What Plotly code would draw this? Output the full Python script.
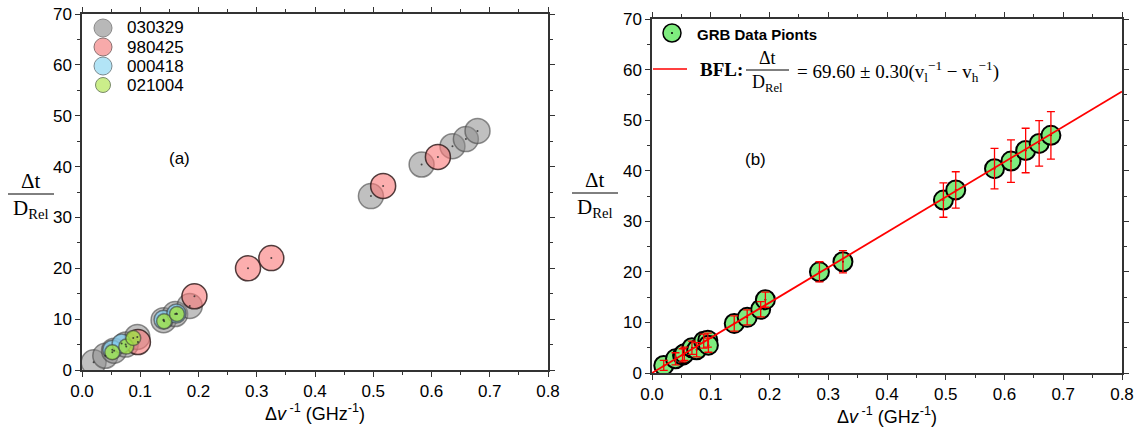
import plotly.graph_objects as go

# ---------------- data ----------------
# panel (a)
g030329_x = [0.020, 0.040, 0.055, 0.075, 0.095, 0.140, 0.160, 0.185, 0.496, 0.583, 0.636, 0.659, 0.679]
g030329_y = [1.5, 2.8, 3.8, 5.0, 6.5, 9.8, 11.0, 12.6, 34.2, 40.4, 44.0, 45.4, 47.0]
g980425_x = [0.096, 0.193, 0.285, 0.325, 0.517, 0.611]
g980425_y = [5.5, 14.5, 20.0, 22.0, 36.2, 41.9]
g000418_x = [0.052, 0.068, 0.140, 0.162]
g000418_y = [4.0, 5.2, 9.9, 11.1]
g021004_x = [0.052, 0.076, 0.088, 0.141, 0.163]
g021004_y = [3.5, 4.6, 6.3, 9.6, 11.0]

# panel (b)
grb_x = [0.020, 0.040, 0.052, 0.055, 0.068, 0.076, 0.088, 0.095, 0.096, 0.140, 0.162,
         0.185, 0.193, 0.285, 0.325, 0.496, 0.517, 0.583, 0.611, 0.636, 0.659, 0.679]
grb_y = [1.5, 2.8, 3.5, 3.8, 5.0, 4.6, 6.3, 6.5, 5.5, 9.8, 11.0,
         12.6, 14.5, 20.0, 22.0, 34.2, 36.2, 40.4, 41.9, 44.0, 45.4, 47.0]
grb_err = [1.0, 1.2, 1.3, 1.3, 1.3, 1.4, 1.4, 1.4, 1.4, 1.5, 1.5,
           1.5, 1.5, 2.0, 2.2, 3.4, 3.6, 4.0, 4.2, 4.4, 4.5, 4.7]
bfl_slope = 69.60
bfl_x = [0.0, 0.8]

x_ticks = [0.0, 0.1, 0.2, 0.3, 0.4, 0.5, 0.6, 0.7, 0.8]
y_ticks = [0, 10, 20, 30, 40, 50, 60, 70]

W, H = 1142, 434
SANS = "Liberation Sans, Arial, sans-serif"
SERIF = "Liberation Serif, Times New Roman, serif"


def px(x):
    return x / W


def py(y):
    return 1 - y / H


fig = go.Figure()

groups = [
    ("030329", g030329_x, g030329_y, "rgba(140,140,140,0.55)", "rgba(70,70,70,0.6)", 25,
     "#B8B8B8", "#8A8A8A", 18),
    ("980425", g980425_x, g980425_y, "rgba(250,120,120,0.6)", "rgba(50,30,30,0.85)", 25,
     "#F7AAAA", "#8A7070", 18),
    ("000418", g000418_x, g000418_y, "rgba(130,205,240,0.75)", "rgba(60,60,60,0.6)", 19,
     "#B2E4F6", "#7A8A90", 18),
    ("021004", g021004_x, g021004_y, "rgba(160,225,70,0.8)", "rgba(60,60,60,0.6)", 15,
     "#CBEE8A", "#7A8A6A", 15),
]
for name, xs, ys, fc, lc, sz, *_ in groups:
    fig.add_trace(go.Scatter(
        x=xs, y=ys, mode="markers", name=name, xaxis="x", yaxis="y",
        marker=dict(size=sz, color=fc, line=dict(color=lc, width=1.5)),
        showlegend=False))
for name, xs, ys, *_ in groups:
    fig.add_trace(go.Scatter(
        x=xs, y=ys, mode="markers", showlegend=False, xaxis="x", yaxis="y",
        marker=dict(size=2, color="rgba(40,40,40,0.8)"), hoverinfo="skip"))

# panel (b)
fig.add_trace(go.Scatter(
    x=grb_x, y=grb_y, mode="markers", name="GRB Data Pionts", xaxis="x2", yaxis="y2",
    marker=dict(size=19, color="#7EEC7E", line=dict(color="black", width=2)),
    showlegend=False))
fig.add_trace(go.Scatter(
    x=grb_x, y=grb_y, mode="markers", showlegend=False, xaxis="x2", yaxis="y2",
    marker=dict(size=2, color="black"), hoverinfo="skip"))
fig.add_trace(go.Scatter(
    x=bfl_x, y=[bfl_slope * v for v in bfl_x], mode="lines", xaxis="x2", yaxis="y2",
    line=dict(color="red", width=1.8), showlegend=False))
fig.add_trace(go.Scatter(
    x=grb_x, y=grb_y, mode="markers", showlegend=False, xaxis="x2", yaxis="y2",
    marker=dict(size=1, color="rgba(0,0,0,0)"),
    error_y=dict(type="data", array=grb_err, color="red", thickness=1.3, width=4)))

axis_common = dict(
    range=[0, 0.8], tickvals=x_ticks, ticktext=[f"{v:.1f}" for v in x_ticks],
    showgrid=False, zeroline=False, showline=True, linecolor="#333", linewidth=1.5,
    mirror="ticks", ticks="outside", ticklen=5, tickwidth=1.2, tickcolor="#333",
    minor=dict(ticks="outside", ticklen=3, dtick=0.05, tickcolor="#333", tickwidth=1),
    tickfont=dict(family=SANS, size=17, color="black"), automargin=False,
)
yaxis_common = dict(
    range=[0, 70], tickvals=y_ticks,
    showgrid=False, zeroline=False, showline=True, linecolor="#333", linewidth=1.5,
    mirror="ticks", ticks="outside", ticklen=5, tickwidth=1.2, tickcolor="#333",
    minor=dict(ticks="outside", ticklen=3, dtick=5, tickcolor="#333", tickwidth=1),
    tickfont=dict(family=SANS, size=17, color="black"), automargin=False,
)
xtitle = dict(text="Δ<i>v</i><sup> -1</sup> (GHz<sup>-1</sup>)",
              font=dict(family=SANS, size=18, color="black"), standoff=6)

fig.update_layout(
    width=W, height=H,
    margin=dict(l=0, r=0, t=0, b=0),
    paper_bgcolor="white", plot_bgcolor="white",
    xaxis=dict(domain=[px(82), px(548)], anchor="y", title=xtitle, **axis_common),
    yaxis=dict(domain=[py(370), py(14)], anchor="x", **yaxis_common),
    xaxis2=dict(domain=[px(652), px(1122)], anchor="y2", title=xtitle, **axis_common),
    yaxis2=dict(domain=[py(373), py(19)], anchor="x2", **yaxis_common),
    showlegend=False,
)

ann = []
shapes = []


def text(x, y, s, font, xanchor="center"):
    ann.append(dict(x=px(x), y=py(y), xref="paper", yref="paper", text=s,
                    xanchor=xanchor, yanchor="middle", showarrow=False, font=font))


sans17 = dict(family=SANS, size=17, color="black")

# left legend (drawn as a key box)
for i, (name, *_rest) in enumerate(groups):
    lfc, llc, lsz = _rest[-3], _rest[-2], _rest[-1]
    cy = 28 + 19 * i
    r = lsz / 2
    shapes.append(dict(type="circle", xref="paper", yref="paper",
                       x0=px(103 - r), x1=px(103 + r), y0=py(cy + r), y1=py(cy - r),
                       fillcolor=lfc, line=dict(color=llc, width=1)))
    text(125, cy, name, sans17, xanchor="left")

# panel labels
text(179, 158, "(a)", sans17)
text(755, 160, "(b)", sans17)

# y-axis titles as stacked fractions
for cx, ly in [(31, 194), (595, 193)]:
    text(cx, ly - 13, "Δt", dict(family=SERIF, size=21, color="black"))
    text(cx, ly + 15, "D<sub>Rel</sub>", dict(family=SERIF, size=21, color="black"))
    shapes.append(dict(type="line", xref="paper", yref="paper",
                       x0=px(cx - 23), x1=px(cx + 23), y0=py(ly), y1=py(ly),
                       line=dict(color="black", width=1)))

# right-panel legend (drawn as a key box)
shapes.append(dict(type="circle", xref="paper", yref="paper",
                   x0=px(663), x1=px(681), y0=py(42), y1=py(24),
                   fillcolor="#7EEC7E", line=dict(color="black", width=1.5)))
shapes.append(dict(type="circle", xref="paper", yref="paper",
                   x0=px(671), x1=px(673), y0=py(34), y1=py(32),
                   fillcolor="black", line=dict(color="black", width=0)))
text(695, 34, "<b>GRB Data Pionts</b>", dict(family=SANS, size=15, color="black"), "left")
shapes.append(dict(type="line", xref="paper", yref="paper",
                   x0=px(653), x1=px(687), y0=py(69), y1=py(69),
                   line=dict(color="red", width=1.5)))
text(698, 70, "<b>BFL:</b>", dict(family=SERIF, size=19, color="black"), "left")
text(767, 58, "Δt", dict(family=SERIF, size=18, color="black"))
text(767, 83, "D<sub>Rel</sub>", dict(family=SERIF, size=18, color="black"))
shapes.append(dict(type="line", xref="paper", yref="paper",
                   x0=px(746), x1=px(789), y0=py(70), y1=py(70),
                   line=dict(color="black", width=1)))
text(795, 71, "= 69.60 ± 0.30(v<sub>l</sub><sup>−1</sup> − v<sub>h</sub><sup>−1</sup>)",
     dict(family=SERIF, size=19, color="black"), "left")

fig.update_layout(annotations=ann, shapes=shapes)

fig.write_html("out.html", config={"displayModeBar": False},
               post_script="document.body.style.margin='0px';")
